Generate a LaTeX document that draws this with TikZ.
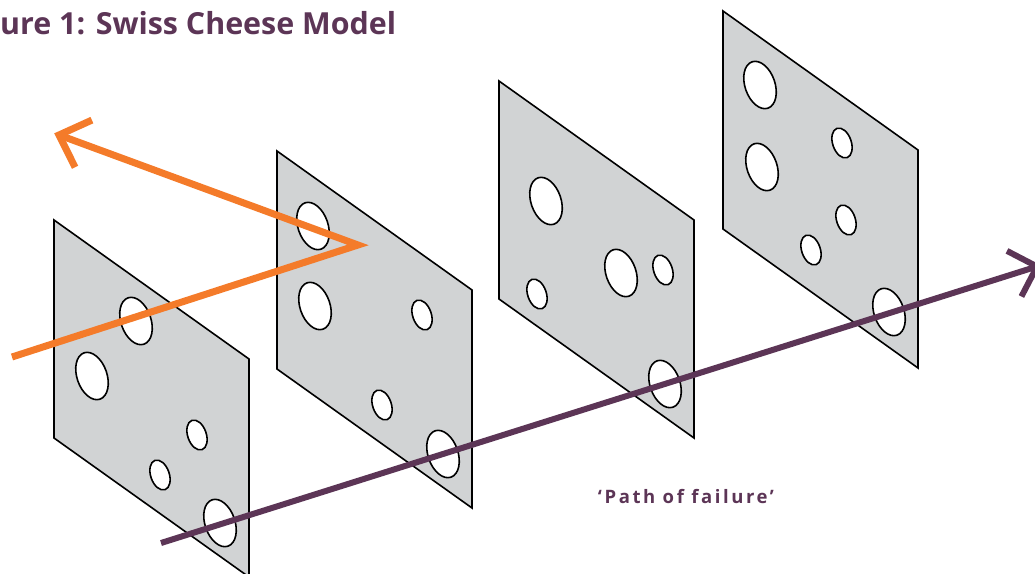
\documentclass[tikz,border=0pt]{standalone}
\usepackage{fontspec}
\setmainfont{Open Sans}
\usetikzlibrary{shapes.geometric}
\definecolor{plum}{HTML}{5C3556}
\definecolor{orng}{HTML}{F47B2A}
\definecolor{cheese}{HTML}{D1D3D4}
\begin{document}
\begin{tikzpicture}[x=1pt,y=-1pt,
  slice/.style={fill=cheese, draw=black, line width=1.6pt, line join=miter},
  bighole/.style={ellipse, draw=black, fill=white, line width=1.6pt,
    minimum width=30pt, minimum height=49pt, inner sep=0pt, outer sep=0pt, rotate=19},
  smallhole/.style={bighole, minimum width=18.6pt, minimum height=31pt},
  orangeline/.style={draw=orng, line width=7pt, line join=miter, line cap=butt},
  plumline/.style={draw=plum, line width=6pt, line join=miter, line cap=butt},
]
\clip (0,0) rectangle (1035,573);
% slices
\foreach \x/\y in {54/220, 277/151, 499/81, 723/11}{
  \filldraw[slice] (\x,\y) -- ++(195,139) -- ++(0,218) -- ++(-195,-139) -- cycle;
}
% holes slice 1
\node[bighole] (h1a) at (136,321) {};
\node[bighole] (h1b) at (92,376) {};
\node[smallhole] (h1c) at (197,435) {};
\node[smallhole] (h1d) at (160,475) {};
\node[bighole] (h1e) at (220,523) {};
% holes slice 2
\node[bighole] (h2a) at (313,226) {};
\node[bighole] (h2b) at (315,306) {};
\node[smallhole] (h2c) at (422,315) {};
\node[smallhole] (h2d) at (382,405) {};
\node[bighole] (h2e) at (443,454) {};
% holes slice 3
\node[bighole] (h3a) at (546,201) {};
\node[bighole] (h3b) at (621,273) {};
\node[smallhole] (h3c) at (663,270) {};
\node[smallhole] (h3d) at (537,294) {};
\node[bighole] (h3e) at (665,384) {};
% holes slice 4
\node[bighole] (h4a) at (760,85) {};
\node[bighole] (h4b) at (762,167) {};
\node[smallhole] (h4c) at (842,143) {};
\node[smallhole] (h4d) at (846,220) {};
\node[smallhole] (h4e) at (811,250) {};
\node[bighole] (h4f) at (889,312) {};
% orange path (stopped hazard)
\coordinate (o0) at (12,357);
\coordinate (oapex) at (358,245);
\coordinate (otip) at (59,135);
\coordinate (oarmA) at (91.9,120.1);
\coordinate (oarmB) at (75.1,167.3);
\draw[orangeline] (o0) -- (oapex) -- (otip);
\draw[orangeline] (oarmA) -- (otip) -- (oarmB);
% plum path (path of failure)
\coordinate (p0) at (161,543);
\coordinate (ptip) at (1037,266.5);
\coordinate (parmA) at (1007,250.9);
\coordinate (parmB) at (1021.4,296.5);
\draw[plumline] (p0) -- (ptip);
\draw[plumline] (parmA) -- (ptip) -- (parmB);
% texts
\node[anchor=base west, inner sep=0pt, text=plum,
  font=\bfseries\fontsize{30.4}{36}\selectfont] (title) at (0,34) {ure 1: Swiss Cheese Model};
\node[anchor=base, inner sep=0pt, text=plum,
  font=\bfseries\fontsize{18.5}{22}\selectfont\addfontfeature{LetterSpace=14}] (pathlabel) at (686,503) {‘Path of failure’};
\end{tikzpicture}
\end{document}
